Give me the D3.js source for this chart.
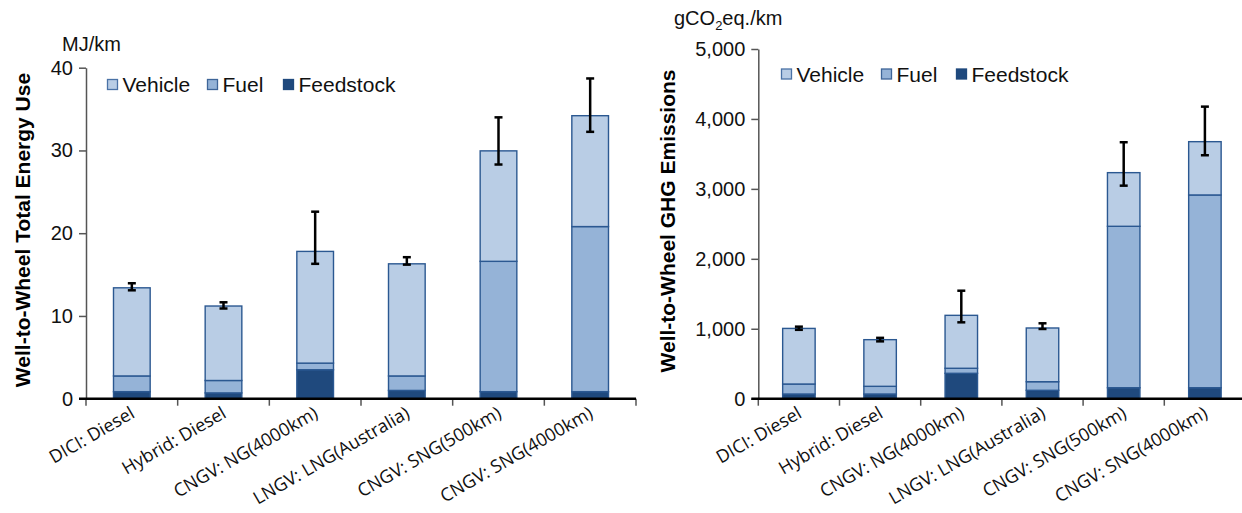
<!DOCTYPE html>
<html>
<head>
<meta charset="utf-8">
<script src="https://cdn.jsdelivr.net/npm/d3@7"></script>
<style>
body { margin: 0; background: #fff; }
svg { display: block; }
</style>
</head>
<body>
<svg id="chart"></svg>
<script>
// categories shared by both panels
var categories = ["DICI: Diesel", "Hybrid: Diesel", "CNGV: NG(4000km)",
    "LNGV: LNG(Australia)", "CNGV: SNG(500km)", "CNGV: SNG(4000km)"];
var legendKeys = ["Vehicle", "Fuel", "Feedstock"];

// total energy use, MJ/km
var energyFeedstock = [0.85, 0.7, 3.5, 1.0, 0.85, 0.85];
var energyFuel = [1.9, 1.5, 0.8, 1.75, 15.75, 19.95];
var energyVehicle = [10.65, 9.0, 13.5, 13.55, 13.35, 13.4];
var energyErrLow = [13.1, 10.9, 16.3, 16.2, 28.3, 32.25];
var energyErrHigh = [13.95, 11.65, 22.6, 17.1, 34.0, 38.7];
var energyTicks = [0, 10, 20, 30, 40];

// GHG emissions, gCO2eq./km
var ghgFeedstock = [67, 67, 363, 120, 157, 157];
var ghgFuel = [143, 110, 72, 123, 2308, 2756];
var ghgVehicle = [795, 667, 757, 768, 767, 762];
var ghgErrLow = [985, 820, 1092, 997, 3046, 3481];
var ghgErrHigh = [1030, 870, 1544, 1078, 3667, 4176];
var ghgTicks = [0, 1000, 2000, 3000, 4000, 5000];

var colors = {"Vehicle": "#b9cde5", "Fuel": "#95b3d7", "Feedstock": "#1f497d"};
var legendStroke = {"Vehicle": "#4a72a6", "Fuel": "#3e6598", "Feedstock": "#1f497d"};
var arial = "'Liberation Sans', Arial, sans-serif";

var svg = d3.select("#chart")
    .attr("width", 1242)
    .attr("height", 513);

function drawPanel(p) {
    var x = d3.scaleBand().domain(categories).range(p.xRange);
    var y = d3.scaleLinear().domain([0, p.yMax]).range(p.yRange);
    var y0 = y(0);
    var bw = x.bandwidth();
    var barW = bw * 0.4;

    var rows = categories.map(function(c, i) {
        return {cat: c, Feedstock: p.feed[i], Fuel: p.fuel[i], Vehicle: p.vehicle[i],
            lo: p.errLow[i], hi: p.errHigh[i]};
    });
    var stacked = d3.stack().keys(["Feedstock", "Fuel", "Vehicle"])(rows);

    var g = svg.append("g");

    // bars
    g.selectAll(".series")
        .data(stacked)
        .enter().append("g")
        .attr("fill", function(d) { return colors[d.key]; })
        .selectAll("rect")
        .data(function(d) { return d; })
        .enter().append("rect")
        .attr("x", function(d) { return x(d.data.cat) + bw / 2 - barW / 2; })
        .attr("y", function(d) { return y(d[1]); })
        .attr("width", barW)
        .attr("height", function(d) { return y(d[0]) - y(d[1]); })
        .attr("stroke", "#2b5891")
        .attr("stroke-width", 1.4);

    // error bars
    var err = g.selectAll(".err").data(rows).enter().append("g");
    err.append("line")
        .attr("x1", function(d) { return x(d.cat) + bw / 2; })
        .attr("x2", function(d) { return x(d.cat) + bw / 2; })
        .attr("y1", function(d) { return y(d.lo); })
        .attr("y2", function(d) { return y(d.hi); });
    err.append("line")
        .attr("x1", function(d) { return x(d.cat) + bw / 2 - 4; })
        .attr("x2", function(d) { return x(d.cat) + bw / 2 + 4; })
        .attr("y1", function(d) { return y(d.lo); })
        .attr("y2", function(d) { return y(d.lo); });
    err.append("line")
        .attr("x1", function(d) { return x(d.cat) + bw / 2 - 4; })
        .attr("x2", function(d) { return x(d.cat) + bw / 2 + 4; })
        .attr("y1", function(d) { return y(d.hi); })
        .attr("y2", function(d) { return y(d.hi); });
    err.selectAll("line").attr("stroke", "#000").attr("stroke-width", 2.5);

    // y axis
    var yAxis = d3.axisLeft(y)
        .tickValues(p.ticks)
        .tickSize(7)
        .tickSizeOuter(0)
        .tickPadding(6)
        .tickFormat(p.fmt);
    var ya = g.append("g")
        .attr("transform", "translate(" + p.xRange[0] + ",0)")
        .call(yAxis);
    ya.select(".domain").attr("stroke", "#555").attr("stroke-width", 1.5);
    ya.selectAll(".tick line").attr("stroke", "#555").attr("stroke-width", 1.5);
    ya.selectAll(".tick text")
        .attr("font-family", arial)
        .attr("font-size", 20)
        .attr("fill", "#111");

    // x axis: ticks at band edges, then the heavy baseline
    var edges = d3.range(categories.length + 1).map(function(i) {
        return p.xRange[0] + i * bw;
    });
    g.selectAll(".xtick").data(edges).enter().append("line")
        .attr("x1", function(d) { return d; })
        .attr("x2", function(d) { return d; })
        .attr("y1", y0)
        .attr("y2", y0 + 7)
        .attr("stroke", "#555")
        .attr("stroke-width", 1.5);
    g.append("line")
        .attr("x1", p.xRange[0] - 7)
        .attr("x2", p.xRange[1])
        .attr("y1", y0)
        .attr("y2", y0)
        .attr("stroke", "#000")
        .attr("stroke-width", 2.5);

    g.selectAll(".xlabel").data(categories).enter().append("text")
        .attr("transform", function(d) {
            return "translate(" + (x(d) + bw / 2 + 4) + "," + (y0 + 18) + ") rotate(-30)";
        })
        .attr("text-anchor", "end")
        .attr("font-family", "'Open Sans', sans-serif")
        .attr("font-size", 18)
        .attr("fill", "#111")
        .text(function(d) { return d; });

    // y title
    g.append("text")
        .attr("transform", "translate(" + p.titleX + "," + p.titleY + ") rotate(-90)")
        .attr("text-anchor", "middle")
        .attr("font-family", arial)
        .attr("font-weight", "bold")
        .attr("font-size", 21)
        .attr("fill", "#000")
        .text(p.title);

    // legend
    var lg = g.selectAll(".legend").data(legendKeys).enter().append("g")
        .attr("transform", function(d, i) {
            return "translate(" + p.legendX[i] + "," + p.legendY + ")";
        });
    lg.append("rect")
        .attr("x", 0.5)
        .attr("y", -12.5)
        .attr("width", 10)
        .attr("height", 10)
        .attr("fill", function(d) { return colors[d]; })
        .attr("stroke", function(d) { return legendStroke[d]; })
        .attr("stroke-width", 1.3);
    lg.append("text")
        .attr("x", 15.5)
        .attr("font-family", arial)
        .attr("font-size", 21)
        .attr("fill", "#111")
        .text(function(d) { return d; });

    return g;
}

drawPanel({
    xRange: [86, 636], yRange: [398.7, 67.7], yMax: 40,
    feed: energyFeedstock, fuel: energyFuel, vehicle: energyVehicle,
    errLow: energyErrLow, errHigh: energyErrHigh,
    ticks: energyTicks, fmt: d3.format("d"),
    title: "Well-to-Wheel Total Energy Use", titleX: 30, titleY: 230,
    legendX: [107, 207, 283], legendY: 92
});

drawPanel({
    xRange: [758.3, 758.3 + 6 * 81.2], yRange: [398.7, 49], yMax: 5000,
    feed: ghgFeedstock, fuel: ghgFuel, vehicle: ghgVehicle,
    errLow: ghgErrLow, errHigh: ghgErrHigh,
    ticks: ghgTicks, fmt: d3.format(","),
    title: "Well-to-Wheel GHG Emissions", titleX: 675, titleY: 221,
    legendX: [781, 881, 956], legendY: 81.5
});

// unit labels
svg.append("text")
    .attr("x", 62)
    .attr("y", 50.5)
    .attr("font-family", arial)
    .attr("font-size", 20)
    .attr("fill", "#111")
    .text("MJ/km");

var unit = svg.append("text")
    .attr("x", 674)
    .attr("y", 25)
    .attr("font-family", arial)
    .attr("font-size", 20)
    .attr("fill", "#111");
unit.append("tspan").text("gCO");
unit.append("tspan").attr("font-size", 13).attr("dy", 5).text("2");
unit.append("tspan").attr("dy", -5).text("eq./km");
</script>
</body>
</html>
